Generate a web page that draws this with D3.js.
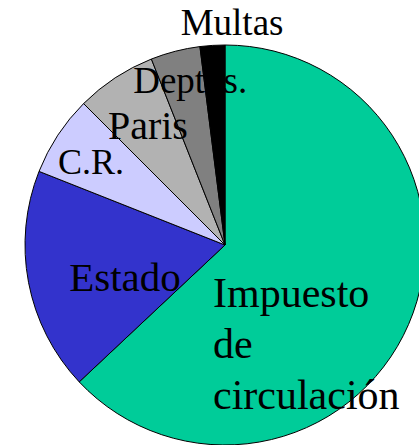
<!DOCTYPE html>
<html>
<head>
<meta charset="utf-8">
<script src="https://cdn.jsdelivr.net/npm/d3@7"></script>
<style>
  html, body { margin: 0; padding: 0; background: #fff; overflow: hidden; }
</style>
</head>
<body>
<script>
// slices, clockwise from 12 o'clock
const categories = ['Impuesto de circulación', 'Estado', 'C.R.', 'Paris', 'Deptos.', 'Multas']
const values = [63, 18, 6.5, 6.5, 4, 2]
const colors = ['#00CC99', '#3333CC', '#CCCCFF', '#B2B2B2', '#808080', '#000000']

// label placement: radius factor along the slice middle, plus nudges to the baseline
const labelR = [0, 0.56, 0.79, 0.72, 0.84, 1.11]
const labelDx = [-12, 10, -2, 2, 7, 21]
const labelDy = [62, 25, 16, 14, 11, 12]
const labelSize = [42, 41, 36, 40, 37, 37]

const width = 419, height = 445
const cx = 225, cy = 245, radius = 200

const svg = d3.select('body').append('svg')
    .attr('width', width)
    .attr('height', height)

const g = svg.append('g').attr('transform', `translate(${cx},${cy})`)

const pie = d3.pie().sort(null).value(d => d)
const arcs = pie(values)

const arc = d3.arc().innerRadius(0).outerRadius(radius)

g.selectAll('path.slice')
    .data(arcs)
    .enter().append('path')
    .attr('class', 'slice')
    .attr('d', arc)
    .attr('fill', (d, i) => colors[i])
    .attr('stroke', '#000')
    .attr('stroke-width', 1)

const labels = g.selectAll('text.label')
    .data(arcs)
    .enter().append('text')
    .attr('class', 'label')
    .attr('font-family', '"Liberation Serif", "Times New Roman", serif')
    .attr('font-size', (d, i) => labelSize[i])
    .attr('fill', '#000')
    .attr('transform', (d, i) => {
        let r = radius * labelR[i]
        let c = d3.arc().innerRadius(r).outerRadius(r).centroid(d)
        return `translate(${c[0] + labelDx[i]},${c[1] + labelDy[i]})`
    })
    .attr('text-anchor', (d, i) => i === 0 ? 'start' : 'middle')

labels.each(function (d, i) {
    let t = d3.select(this)
    if (i === 0) {
        let words = categories[i].split(' ')
        words.forEach((w, j) => {
            t.append('tspan')
                .attr('x', 0)
                .attr('dy', j === 0 ? 0 : 51)
                .text(w)
        })
    } else {
        t.text(categories[i])
    }
})
</script>
</body>
</html>
